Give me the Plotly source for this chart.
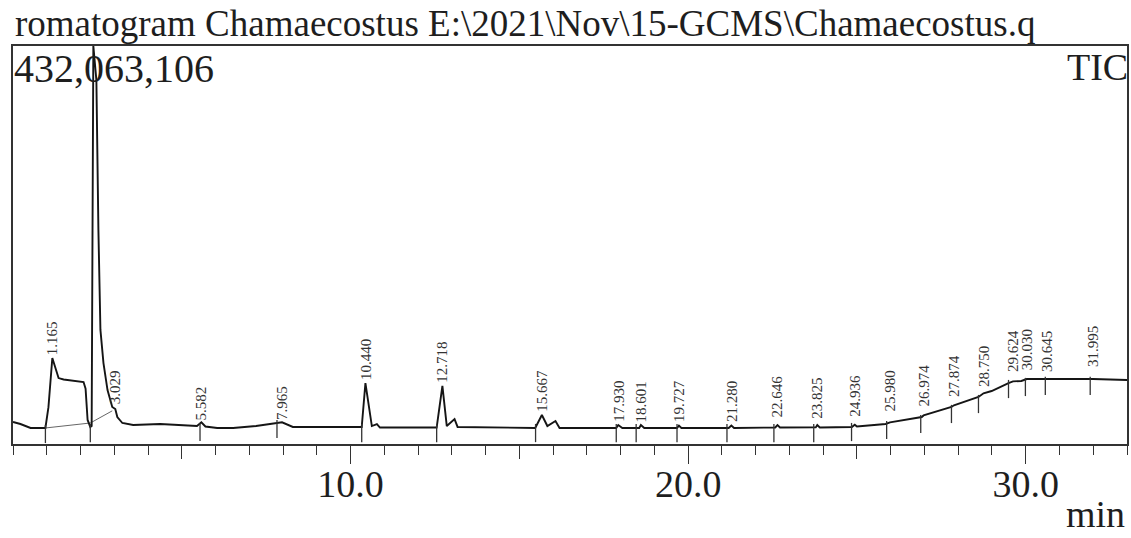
import plotly.graph_objects as go

# ---------------- data ----------------
# TIC trace: retention time (min) and intensity (millions of counts)
time_min = [0.00, 0.22, 0.52, 0.90, 0.96, 1.05, 1.165, 1.35, 1.50, 2.09, 2.15, 2.21, 2.29,
            2.33, 2.38, 2.47, 2.50, 2.53, 2.59, 2.68, 2.80, 2.94, 3.03, 3.09, 3.24, 3.56,
            4.36, 5.45, 5.58, 5.70, 6.05, 6.52, 7.20, 7.82, 7.97, 8.29, 10.33, 10.44, 10.63,
            10.78, 10.87, 12.55, 12.72, 12.85, 13.08, 13.17, 14.00, 15.47, 15.667, 15.83,
            16.07, 16.19, 17.87, 17.93, 18.05, 18.55, 18.60, 18.70, 19.67, 19.727, 19.80,
            21.20, 21.28, 21.36, 22.58, 22.646, 22.72, 23.78, 23.825, 23.90, 24.85, 24.936,
            25.00, 25.85, 25.98, 26.92, 26.974, 27.80, 27.874, 28.60, 28.75, 28.99, 29.49,
            29.624, 29.87, 30.03, 30.645, 31.995, 33.00]
tic_M = [24.0, 21.7, 17.4, 17.0, 17.4, 40.0, 93.4, 71.6, 70.0, 67.3, 60.0, 26.1, 18.5,
         19.5, 432.063106, 395.0, 275.7, 232.0, 123.8, 87.9, 58.6, 40.2, 38.0, 29.3, 22.8, 20.6,
         21.7, 19.5, 23.5, 19.0, 17.4, 17.4, 19.5, 22.8, 23.5, 18.5, 18.5, 66.2, 19.5,
         21.7, 17.9, 17.9, 63.0, 19.5, 27.0, 18.5, 18.0, 17.4, 31.5, 19.5,
         25.0, 17.4, 17.4, 20.6, 17.4, 17.4, 20.6, 17.4, 17.4, 20.0, 17.4,
         17.4, 20.0, 17.4, 17.9, 20.5, 17.9, 18.0, 20.6, 18.0, 18.5, 21.0,
         19.0, 21.7, 23.5, 29.3, 31.0, 40.2, 42.0, 51.0, 55.0, 57.5, 66.2,
         68.0, 68.4, 70.5, 70.5, 70.5, 69.5]

# integration baseline drawn under the first peaks
base_t = [0.96, 2.29, 2.94]
base_M = [17.4, 22.8, 36.0]

# peak labels: retention time text, and height of the label foot
peak_rt = [1.165, 3.029, 5.582, 7.965, 10.440, 12.718, 15.667, 17.930, 18.601, 19.727,
           21.280, 22.646, 23.825, 24.936, 25.980, 26.974, 27.874, 28.750, 29.624, 30.030,
           30.645, 31.995]
peak_label = ["1.165", "3.029", "5.582", "7.965", "10.440", "12.718", "15.667", "17.930",
              "18.601", "19.727", "21.280", "22.646", "23.825", "24.936", "25.980", "26.974",
              "27.874", "28.750", "29.624", "30.030", "30.645", "31.995"]
label_foot_M = [93.4, 40.2, 22.8, 22.8, 66.2, 63.0, 31.5, 20.6, 20.6, 20.6,
                20.6, 26.0, 23.9, 26.0, 31.5, 37.0, 47.8, 58.6, 75.0, 77.0,
                75.0, 80.0]

# integration start/end markers
mark_t = [0.96, 2.29, 5.54, 7.82, 10.33, 12.55, 15.48, 17.87, 18.46, 19.67, 21.15, 22.54,
          23.72, 24.84, 25.88, 26.89, 27.80, 28.60, 29.49, 29.99, 30.58, 31.91]
mark_M = [10.9, 11.9, 13.0, 16.3, 11.9, 11.9, 11.9, 11.9, 11.9, 11.9, 11.9, 11.9,
          11.9, 13.0, 15.2, 21.7, 32.6, 43.4, 59.7, 61.9, 63.0, 63.0]

x_major = [5, 10, 15, 20, 25, 30]
x_major_text = ["", "10.0", "", "20.0", "", "30.0"]
x_long = [10, 20, 30]

title_text = "romatogram Chamaecostus E:\\2021\\Nov\\15-GCMS\\Chamaecostus.q"
max_text = "432,063,106"
tic_text = "TIC"
unit_text = "min"
Y_MAX = 432.063106

SERIF = "Liberation Serif, Times New Roman, serif"
INK = "#1e1e1e"
PLOT_H = 538 - 46 - 94

fig = go.Figure()
fig.add_trace(go.Scatter(x=base_t, y=base_M, mode="lines",
                         line=dict(color="#555555", width=0.9), hoverinfo="skip"))
fig.add_trace(go.Scatter(x=time_min, y=tic_M, mode="lines",
                         line=dict(color="#151515", width=1.9), hoverinfo="skip"))
fig.add_trace(go.Scatter(x=mark_t, y=mark_M, mode="markers",
                         marker=dict(symbol="line-ns", size=13,
                                     line=dict(color="#333333", width=1.3)),
                         hoverinfo="skip"))
# invisible trace to carry the long-tick axis
fig.add_trace(go.Scatter(x=x_long, y=[0, 0, 0], xaxis="x2", mode="markers",
                         marker=dict(opacity=0), hoverinfo="skip"))

for rt, lab, foot in zip(peak_rt, peak_label, label_foot_M):
    fig.add_annotation(x=rt, y=foot, text=lab, textangle=-90, showarrow=False,
                       xanchor="center", yanchor="bottom", yshift=1,
                       font=dict(family=SERIF, size=15, color="#333333"))

fig.add_annotation(xref="paper", yref="paper", x=0, y=1 + 46 / PLOT_H, xshift=0, yshift=-1,
                   xanchor="left", yanchor="top", text=title_text, showarrow=False,
                   font=dict(family=SERIF, size=37, color=INK))
fig.add_annotation(xref="paper", yref="paper", x=0, y=1, xshift=-1, yshift=2,
                   xanchor="left", yanchor="top", text=max_text, showarrow=False,
                   font=dict(family=SERIF, size=40, color=INK))
fig.add_annotation(xref="paper", yref="paper", x=1, y=1, xshift=3, yshift=2,
                   xanchor="right", yanchor="top", text=tic_text, showarrow=False,
                   font=dict(family=SERIF, size=38, color=INK))
fig.add_annotation(xref="paper", yref="paper", x=1, y=0, xshift=0, yshift=-47,
                   xanchor="right", yanchor="top", text=unit_text, showarrow=False,
                   font=dict(family=SERIF, size=38, color=INK))

fig.update_layout(
    width=1131, height=538,
    margin=dict(l=13, r=2, t=46, b=94),
    paper_bgcolor="white", plot_bgcolor="white",
    showlegend=False,
    xaxis=dict(range=[0, 33], showline=True, mirror=True, linecolor="#333333", linewidth=1.5,
               ticks="outside", tickvals=x_major, ticktext=x_major_text, ticklen=13,
               tickwidth=1.2, tickcolor="#333333", ticklabelstandoff=-7,
               minor=dict(dtick=1, ticks="outside", ticklen=9, tickwidth=1.2,
                          tickcolor="#333333", showgrid=False),
               showgrid=False, zeroline=False,
               tickfont=dict(family=SERIF, size=38, color=INK)),
    xaxis2=dict(range=[0, 33], overlaying="x", anchor="y", side="bottom",
                tickvals=x_long, ticks="outside", ticklen=19, tickwidth=1.2,
                tickcolor="#333333", showticklabels=False, showline=False,
                showgrid=False, zeroline=False),
    yaxis=dict(range=[0, Y_MAX], showline=True, mirror=True, linecolor="#333333",
               linewidth=1.5, ticks="", showticklabels=False, showgrid=False,
               zeroline=False),
)

fig.write_html("out.html")
